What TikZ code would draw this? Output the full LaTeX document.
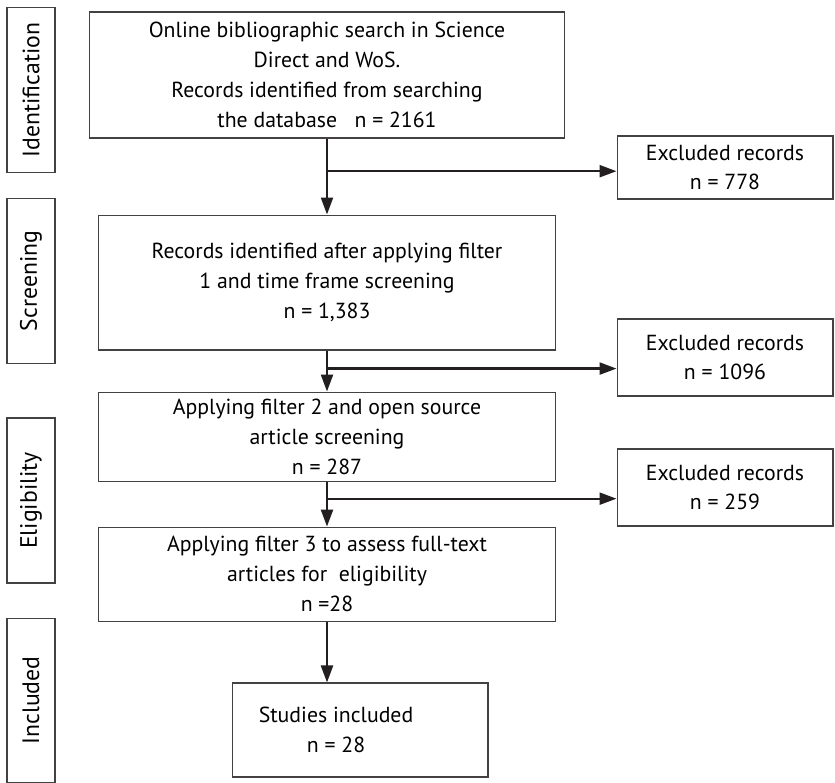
\documentclass[tikz,border=0pt]{standalone}
\usepackage{fontspec}
\setmainfont{PT Sans}
\usetikzlibrary{arrows.meta, positioning, calc}
\definecolor{ink}{HTML}{231F20}

\begin{document}
\begin{tikzpicture}[
    x=0.02cm, y=-0.02cm,
    box/.style={draw=ink!85, line width=0.6pt, align=center, inner sep=2pt,
                minimum width=9.16cm, font=\fontsize{12.4}{17}\selectfont},
    exbox/.style={box, minimum width=4.32cm, minimum height=1.54cm},
    phase/.style={draw=ink!85, line width=0.6pt, rotate=90,
                  minimum width=3.3cm, minimum height=0.96cm,
                  font=\fontsize{13.5}{15}\selectfont},
    arr/.style={-{Triangle[length=0.34cm, width=0.24cm]}, line width=1.3pt, draw=ink}
  ]
  \useasboundingbox (0,0) rectangle (835,782);
  \node[phase] (pident) at (31,90)    {Identification};
  \node[phase] (pscreen) at (31,281)  {Screening};
  \node[phase] (pelig) at (31,500.5)  {Eligibility};
  \node[phase] (pincl) at (31,700.5)  {Included};

  \node[box, minimum width=9.5cm, minimum height=2.52cm] (search) at (327,75)
    {Online bibliographic search in Science\\Direct and WoS.\\
     Records identified from searching\\the database\ \ \ n = 2161};
  \node[box, minimum height=2.7cm, below=1.52cm of search] (filt1)
    {Records identified after applying filter\\1 and time frame screening\\n = 1,383};
  \node[box, minimum height=1.78cm, below=0.82cm of filt1] (filt2)
    {Applying filter 2 and open source\\article screening\\n = 287};
  \node[box, minimum height=1.88cm, below=0.9cm of filt2] (filt3)
    {Applying filter 3 to assess full-text\\articles for\ \ eligibility\\n =28};
  \node[box, minimum width=5.12cm, minimum height=1.88cm] (incl) at (360,730)
    {Studies included\hspace*{0.96cm}\\n = 28\hspace*{0.96cm}};

  \node[exbox, minimum height=1.26cm] (exc1) at (725,167.5) {Excluded records\\n = 778};
  \node[exbox] (exc2) at (725,357.5) {Excluded records\\n = 1096};
  \node[exbox] (exc3) at (725,487.5) {Excluded records\\n = 259};

  \coordinate (b1) at ($(search.south)!0.43!(filt1.north)$);
  \coordinate (b2) at ($(filt1.south)!0.44!(filt2.north)$);
  \coordinate (b3) at ($(filt2.south)!0.38!(filt3.north)$);

  \draw[arr] (search) -- (filt1);
  \draw[arr] (filt1) -- (filt2);
  \draw[arr] (filt2) -- (filt3);
  \draw[arr] (filt3.south) -- (filt3.south |- incl.north);
  \draw[arr] (b1) -- (b1 -| exc1.west);
  \draw[arr] (b2) -- (b2 -| exc2.west);
  \draw[arr] (b3) -- (b3 -| exc3.west);
\end{tikzpicture}
\end{document}
